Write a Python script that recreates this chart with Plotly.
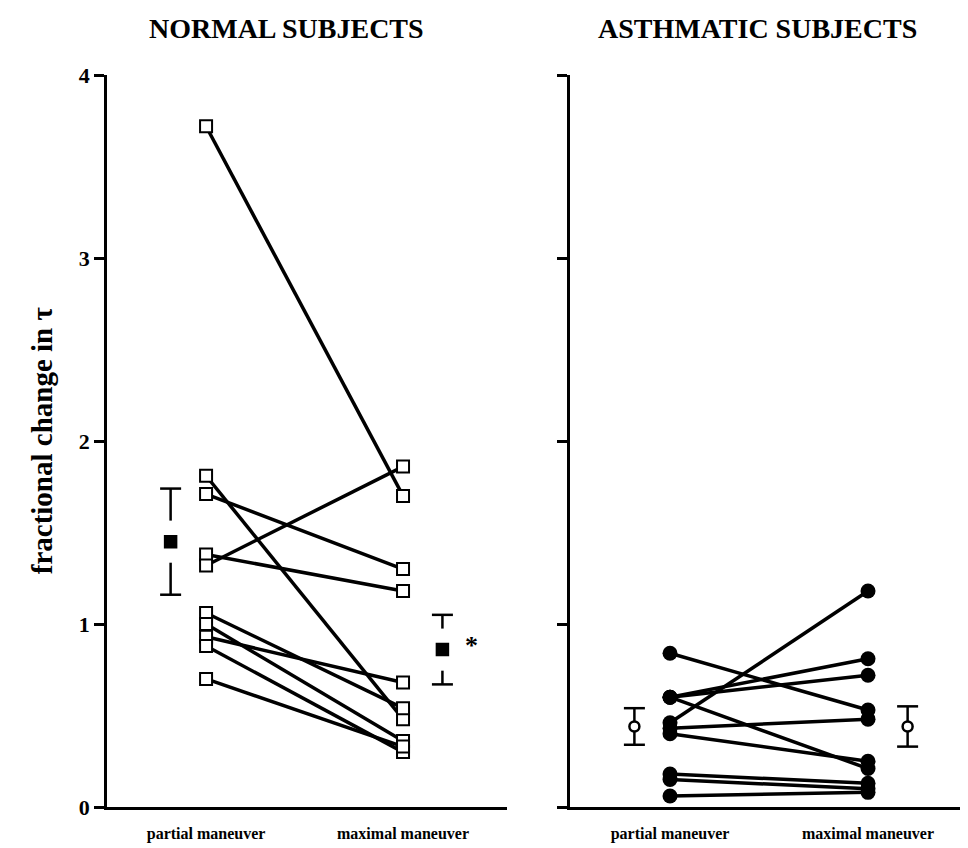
import plotly.graph_objects as go

# ---------------- data ----------------
conditions = ["partial maneuver", "maximal maneuver"]

normal_partial = [3.72, 1.81, 1.71, 1.38, 1.32, 1.06, 1.00, 0.93, 0.88, 0.70]
normal_maximal = [1.70, 0.48, 1.30, 1.18, 1.86, 0.54, 0.36, 0.68, 0.30, 0.33]

asthma_partial = [0.84, 0.60, 0.60, 0.60, 0.46, 0.43, 0.40, 0.18, 0.15, 0.06]
asthma_maximal = [0.53, 0.81, 0.72, 0.21, 1.18, 0.48, 0.25, 0.13, 0.10, 0.08]

normal_means = [1.45, 0.86]
normal_sems = [0.29, 0.19]
asthma_means = [0.44, 0.44]
asthma_sems = [0.10, 0.11]

y_ticks = [0, 1, 2, 3, 4]

# ---------------- style ----------------
FONT = "Liberation Serif"
BLACK = "#000000"
MEAN_X = [-0.18, 1.20]   # horizontal placement of the mean +/- SE markers

fig = go.Figure()


def pair_lines(partial, maximal, xaxis, yaxis):
    xs, ys = [], []
    for p, m in zip(partial, maximal):
        xs += [0, 1, None]
        ys += [p, m, None]
    return go.Scatter(x=xs, y=ys, mode="lines", xaxis=xaxis, yaxis=yaxis,
                      line=dict(color=BLACK, width=3.5), hoverinfo="skip",
                      showlegend=False)


def end_markers(partial, maximal, xaxis, yaxis, symbol, fill, size, lw):
    xs = [0] * len(partial) + [1] * len(maximal)
    ys = list(partial) + list(maximal)
    return go.Scatter(x=xs, y=ys, mode="markers", xaxis=xaxis, yaxis=yaxis,
                      marker=dict(symbol=symbol, size=size, color=fill,
                                  line=dict(color=BLACK, width=lw)),
                      showlegend=False)


def mean_bars(means, sems, gap, xaxis, yaxis, symbol, fill, size):
    traces = []
    xs, ys = [], []
    cx, cy = [], []
    for x, m, s in zip(MEAN_X, means, sems):
        xs += [x, x, None, x, x, None]
        ys += [m + s, m + gap, None, m - gap, m - s, None]
        cx += [x, x]
        cy += [m + s, m - s]
    traces.append(go.Scatter(x=xs, y=ys, mode="lines", xaxis=xaxis, yaxis=yaxis,
                             line=dict(color=BLACK, width=2.5), showlegend=False,
                             hoverinfo="skip"))
    traces.append(go.Scatter(x=cx, y=cy, mode="markers", xaxis=xaxis, yaxis=yaxis,
                             marker=dict(symbol="line-ew", size=15,
                                         line=dict(color=BLACK, width=2.5)),
                             showlegend=False, hoverinfo="skip"))
    traces.append(go.Scatter(x=MEAN_X, y=means, mode="markers", xaxis=xaxis, yaxis=yaxis,
                             marker=dict(symbol=symbol, size=size, color=fill,
                                         line=dict(color=BLACK, width=2.5)),
                             showlegend=False))
    return traces


# Normal subjects (left panel)
fig.add_trace(pair_lines(normal_partial, normal_maximal, "x", "y"))
fig.add_trace(end_markers(normal_partial, normal_maximal, "x", "y",
                          "square", "white", 12, 2))
for t in mean_bars(normal_means, normal_sems, 0.115, "x", "y", "square", BLACK, 11):
    fig.add_trace(t)

# Asthmatic subjects (right panel)
fig.add_trace(pair_lines(asthma_partial, asthma_maximal, "x2", "y2"))
fig.add_trace(end_markers(asthma_partial, asthma_maximal, "x2", "y2",
                          "circle", BLACK, 15, 0))
for t in mean_bars(asthma_means, asthma_sems, 0.0, "x2", "y2", "circle", "white", 10):
    fig.add_trace(t)

xaxis_common = dict(
    tickmode="array", tickvals=[0, 1], ticktext=conditions,
    showline=True, linecolor=BLACK, linewidth=2.5, ticks="",
    showgrid=False, zeroline=False,
    tickfont=dict(family=FONT, size=16, color=BLACK, weight="bold"),
    ticklabelstandoff=10, fixedrange=True,
)
yaxis_common = dict(
    range=[0, 4], tickvals=y_ticks,
    showline=True, linecolor=BLACK, linewidth=2.5,
    ticks="outside", ticklen=10, tickwidth=2.5, tickcolor=BLACK,
    showgrid=False, zeroline=False,
    tickfont=dict(family=FONT, size=22, color=BLACK, weight="bold"),
    fixedrange=True,
)

# the page body adds an 8 px offset, so the figure is 8 px smaller each way
fig.update_layout(
    width=960, height=840,
    margin=dict(l=99, r=0, t=67, b=41),
    paper_bgcolor="white", plot_bgcolor="white",
    xaxis=dict(domain=[0, 0.4646], range=[-0.503, 1.528], **xaxis_common),
    yaxis=dict(anchor="x", showticklabels=True, **yaxis_common),
    xaxis2=dict(domain=[0.5378, 1.0], range=[-0.505, 1.505], anchor="y2", **xaxis_common),
    yaxis2=dict(anchor="x2", showticklabels=False, **yaxis_common),
    showlegend=False,
    annotations=[
        dict(text="NORMAL SUBJECTS", xref="paper", yref="paper", x=0.209, y=1.064,
             showarrow=False, xanchor="center", yanchor="middle",
             font=dict(family=FONT, size=28, color=BLACK, weight="bold")),
        dict(text="ASTHMATIC SUBJECTS", xref="paper", yref="paper", x=0.755, y=1.064,
             showarrow=False, xanchor="center", yanchor="middle",
             font=dict(family=FONT, size=28, color=BLACK, weight="bold")),
        dict(text="fractional change in τ", xref="paper", yref="paper",
             x=-0.0755, y=0.501, textangle=-90, showarrow=False,
             xanchor="center", yanchor="middle",
             font=dict(family=FONT, size=29, color=BLACK, weight="bold")),
        dict(text="*", xref="x", yref="y", x=MEAN_X[1] + 0.15, y=normal_means[1] + 0.02,
             showarrow=False, xanchor="center", yanchor="middle",
             font=dict(family=FONT, size=26, color=BLACK, weight="bold")),
    ],
)

fig.write_html("out.html")
